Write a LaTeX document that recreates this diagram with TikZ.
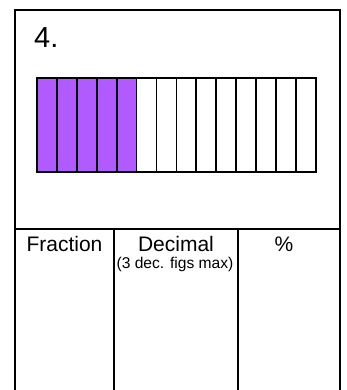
\documentclass[tikz,border=0pt]{standalone}
\usepackage{fontspec}
\setmainfont{Liberation Sans}
\definecolor{barpurple}{HTML}{B05AFF}
\begin{document}
\begin{tikzpicture}[x=1pt,y=-1pt,
  outer/.style={line width=1.8pt},
  cell/.style={draw, line width=1.8pt, minimum width=19.93pt, minimum height=94pt, inner sep=0pt, anchor=north west},
  grid/.style={line width=1.1pt},
  lbl/.style={anchor=base, inner sep=0pt, font=\fontsize{21}{23}\selectfont}]
\useasboundingbox (0,0) rectangle (346,390);
\fill[white] (0,0) rectangle (346,390);
% outer frame (bottom edge lies outside the picture)
\draw[outer] (15,392) -- (15,10) -- (340,10) -- (340,392);
% title
\node[anchor=base west, inner sep=0pt, font=\fontsize{29}{31}\selectfont] (title) at (34,48) {4.};
% bar
\foreach \i in {0,...,13} {
  \pgfmathsetmacro{\xx}{36+\i*19.93}
  \ifnum\i<5
    \node[cell, fill=barpurple] (c\i) at (\xx,77) {};
  \else
    \node[cell, fill=white] (c\i) at (\xx,77) {};
  \fi
}
% table
\draw[grid] (15,229) -- (340,229);
\draw[grid] (114,229) -- (114,392);
\draw[grid] (238,229) -- (238,392);
\node[lbl] (frac) at (64.5,251) {Fraction};
\node[lbl] (dec) at (176,251) {Decimal};
\node[anchor=base, inner sep=0pt, font=\fontsize{15.6}{17}\selectfont] (decnote) at (175,268) {(3 dec. figs max)};
\node[lbl] (pct) at (284,251) {\%};
\end{tikzpicture}
\end{document}
